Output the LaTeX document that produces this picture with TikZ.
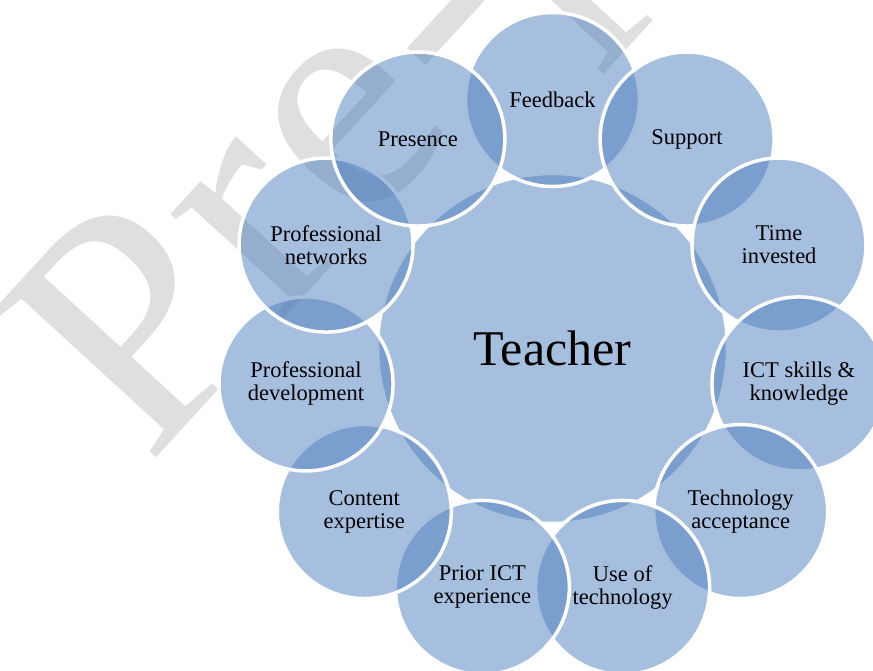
\documentclass[tikz,border=0pt]{standalone}
\usepackage{fontspec}
\setmainfont{Liberation Serif}
\newfontfamily\wmfont[LetterSpace=2.5]{Liberation Serif}
\usetikzlibrary{calc}
\begin{document}
\begin{tikzpicture}[x=1pt,y=1pt,
  bubble/.style={circle, draw=white, line width=3.5pt,
    fill={rgb,255:red,75;green,124;blue,188}, fill opacity=0.49,
    text opacity=1, text=black, inner sep=0pt, align=center,
    font=\fontsize{22.5}{23}\selectfont},
  outer/.style={bubble, minimum size=174pt},
  hub/.style={bubble, minimum size=350pt, font=\fontsize{50}{55}\selectfont},
  watermark/.style={text={rgb,255:red,223;green,223;blue,223}, inner sep=0pt,
    font=\wmfont\fontsize{335}{335}\selectfont}
]
\useasboundingbox (0,0) rectangle (873,670);
\node[watermark, anchor=base west, rotate=47.5] (wm) at (148,203) {Pre-print};
\coordinate (C) at (552.5,321.5);
\node[hub] (teacher) at (C) {Teacher};
\foreach \i/\t in {0/Feedback, 1/Support, 2/Time\\invested, 3/ICT skills \&\\knowledge,
  4/Technology\\acceptance, 5/Use of\\technology, 6/Prior ICT\\experience,
  7/Content\\expertise, 8/Professional\\development, 9/Professional\\networks,
  10/Presence}
  \node[outer] (c\i) at ($(C)+({90-\i*360/11}:249)$) {\t};
\end{tikzpicture}
\end{document}
